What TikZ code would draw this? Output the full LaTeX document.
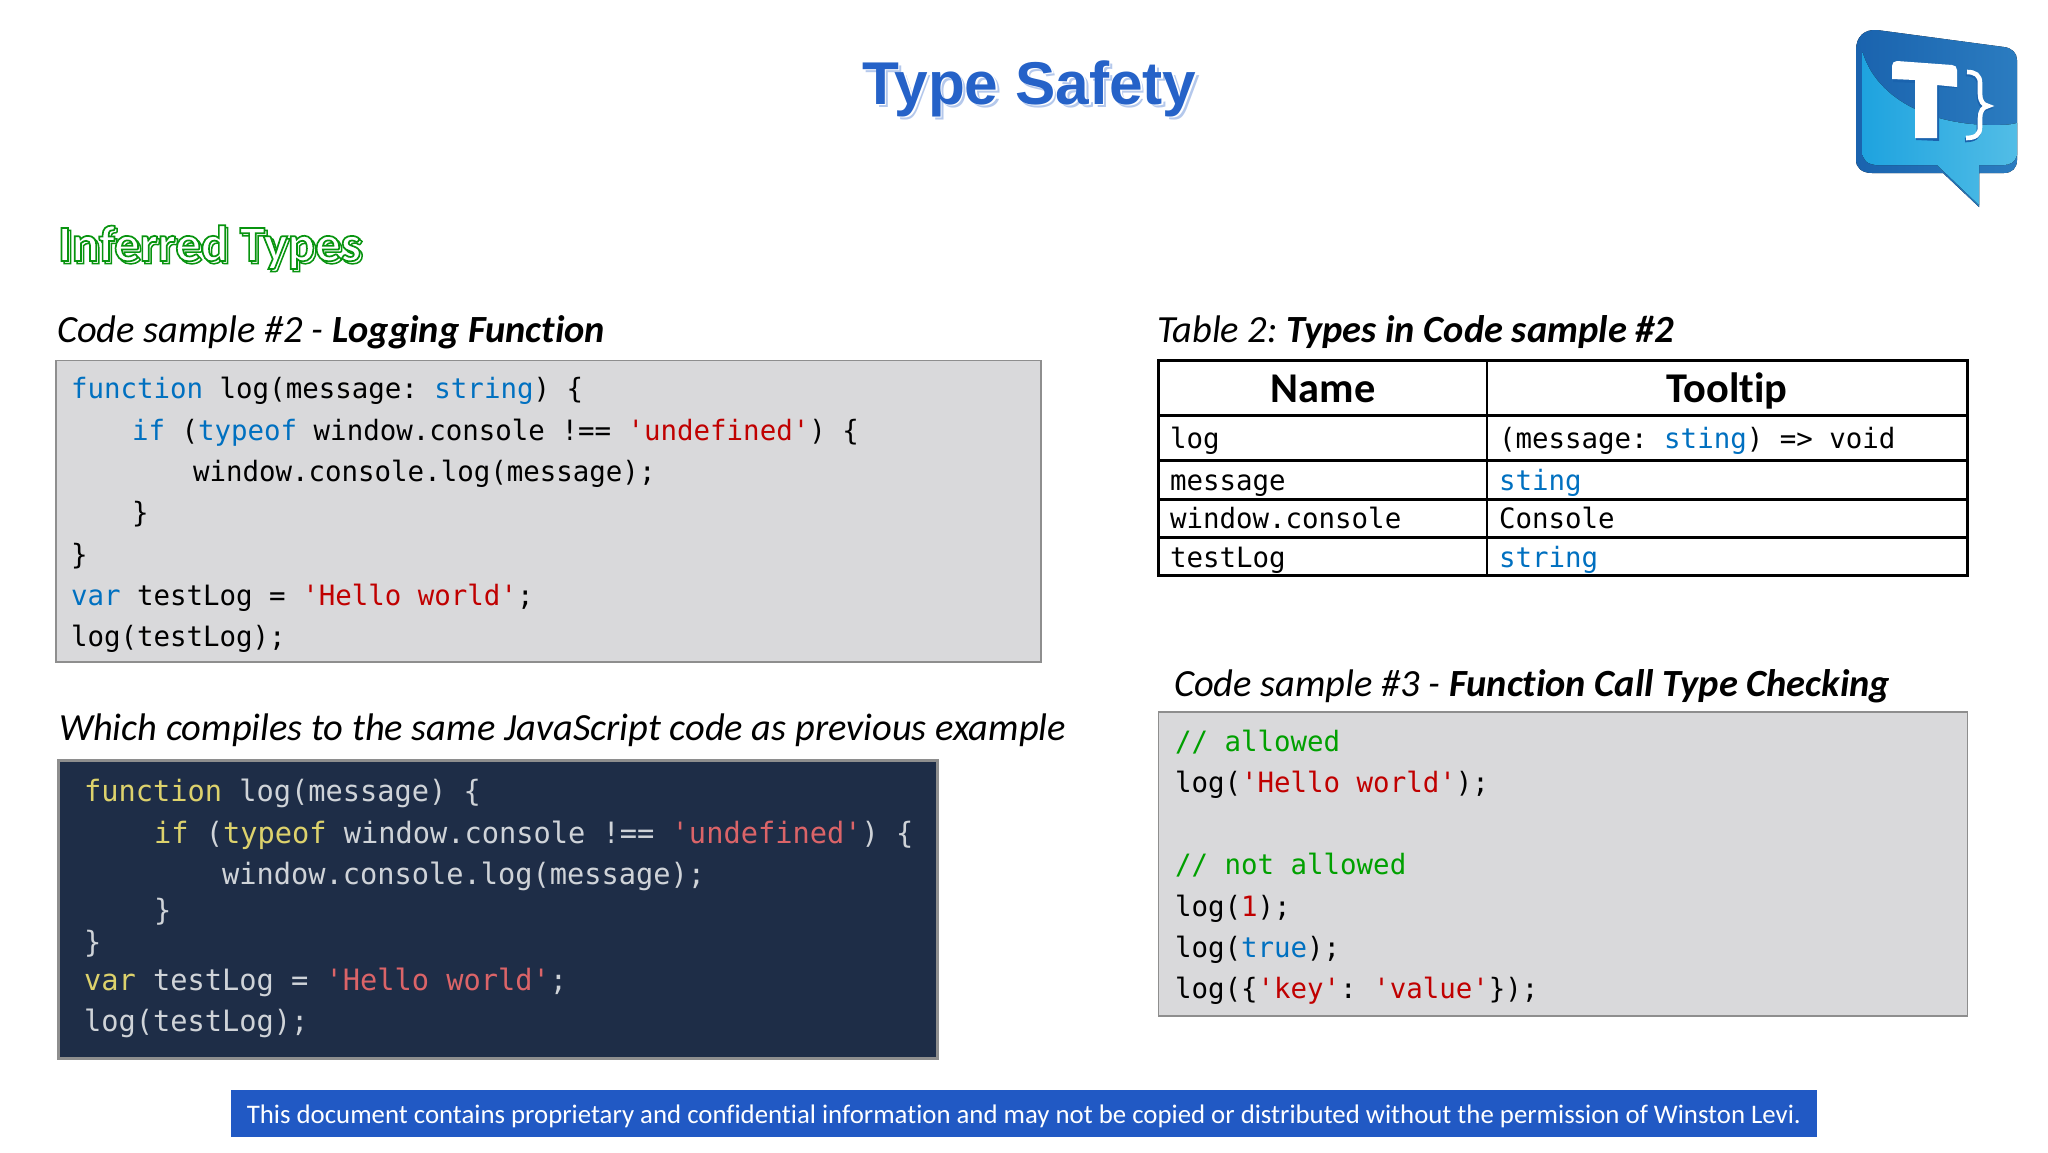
\documentclass[tikz,border=0pt]{standalone}
\usepackage{fontspec}
\setmainfont{Carlito}[Ligatures=NoCommon]
\newfontfamily\titlefont{Liberation Sans}[BoldFont={Liberation Sans Bold}]
\newfontfamily\codefont{DejaVu Sans Mono}[FakeStretch=0.98]
\newfontfamily\darkfont{DejaVu Sans Mono}[FakeStretch=0.975]
\definecolor{kwblue}{HTML}{0070C0}
\definecolor{strred}{HTML}{C00000}
\definecolor{cmtgreen}{HTML}{00A000}
\definecolor{boxgray}{HTML}{D9D9DB}
\definecolor{boxline}{HTML}{8E8E8E}
\definecolor{darkbg}{HTML}{1E2D47}
\definecolor{dkyellow}{HTML}{DDD26C}
\definecolor{dkgray}{HTML}{CFD3D8}
\definecolor{dkred}{HTML}{DB6468}
\definecolor{titleblue}{HTML}{2562C8}
\definecolor{titleshadow}{HTML}{B4C8EC}
\definecolor{headgreen}{HTML}{0F9E16}
\definecolor{footblue}{HTML}{2159C4}
\newcommand{\kw}[1]{\textcolor{kwblue}{#1}}
\newcommand{\str}[1]{\textcolor{strred}{#1}}
\newcommand{\ye}[1]{\textcolor{dkyellow}{#1}}
\newcommand{\rd}[1]{\textcolor{dkred}{#1}}
\tikzset{
  txt/.style={inner sep=0pt,outer sep=0pt,anchor=base west},
  code/.style={txt,font=\frenchspacing\codefont\fontsize{28}{28}\selectfont,text=black},
  dark/.style={txt,font=\frenchspacing\darkfont\fontsize{29.4}{29}\selectfont,text=dkgray},
  heading/.style={txt,font=\frenchspacing\fontsize{38.45}{38}\selectfont,text=black},
  codebox/.style={fill=boxgray,draw=boxline,line width=1.6pt},
  tbl/.style={draw=black,line width=2.4pt},
  thead/.style={inner sep=0pt,anchor=base,font=\bfseries\fontsize{42.4}{42}\selectfont},
  titletext/.style={txt,font=\titlefont\bfseries\fontsize{60.4}{60}\selectfont},
  secttext/.style={txt,font=\bfseries\fontsize{51}{51}\selectfont},
}
\begin{document}
\begin{tikzpicture}[x=1pt,y=-1pt]
\useasboundingbox (0,0) rectangle (2048,1152);
\fill[white] (0,0) rectangle (2048,1152);

% title
\node[titletext,text=titleshadow] (titleS) at (865.5,107.5) {Type Safety};
\node[titletext,text=white] (titleW) at (863.8,105.8) {Type Safety};
\node[titletext,text=titleblue] (title) at (862,104) {Type Safety};

% section heading, outlined
\node[secttext,text=headgreen] (sectS) at (60.5,263.5) {\special{pdf:code q 1 Tr 1.5 w 0.03 0.58 0.06 RG}Inferred Types\special{pdf:code Q}};
\node[secttext,text=white] (sect) at (58,261) {\special{pdf:code q 2 Tr 1.7 w 0.03 0.58 0.06 RG}Inferred Types\special{pdf:code Q}};

% headings
\node[heading] (h1) at (57,342) {\itshape Code sample \#2 - \bfseries Logging Function};
\node[heading] (h2) at (59,740) {\itshape Which compiles to the same JavaScript code as previous example};
\node[heading] (h3) at (1157,342) {\itshape Table 2: \bfseries Types in Code sample \#2};
\node[heading] (h4) at (1174,696) {\itshape Code sample \#3 - \bfseries Function Call Type Checking};

% code sample 2
\path[codebox] (56,360.5) rectangle (1041,662);
\node[code] (c1) at (71,398) {\kw{function} log(message: \kw{string}) \{};
\node[code] (c2) at (132,440) {\kw{if} (\kw{typeof} window.console !== \str{'undefined'}) \{};
\node[code] (c3) at (193,481) {window.console.log(message);};
\node[code] (c4) at (132,522) {\}};
\node[code] (c5) at (71,564) {\}};
\node[code] (c6) at (71,605) {\kw{var} testLog = \str{'Hello world'};};
\node[code] (c7) at (71,646) {log(testLog);};

% dark code
\path[fill=darkbg,draw=boxline,line width=3pt] (58,760) rectangle (937,1058);
\node[dark] (d1) at (84,801) {\ye{function} log(message) \{};
\node[dark] (d2) at (154,843) {\ye{if} (\ye{typeof} window.console !== \rd{'undefined'}) \{};
\node[dark] (d3) at (222,884) {window.console.log(message);};
\node[dark] (d4) at (154,920) {\}};
\node[dark] (d5) at (84,952) {\}};
\node[dark] (d6) at (84,990) {\ye{var} testLog = \rd{'Hello world'};};
\node[dark] (d7) at (84,1031) {log(testLog);};

% table
\draw[tbl] (1158.5,360.5) rectangle (1967.5,575.5);
\draw[tbl] (1487,360.5) -- (1487,575.5);
\draw[tbl] (1158.5,415.5) -- (1967.5,415.5);
\draw[tbl] (1158.5,460.5) -- (1967.5,460.5);
\draw[tbl] (1158.5,499.5) -- (1967.5,499.5);
\draw[tbl] (1158.5,537.5) -- (1967.5,537.5);
\node[thead] (tn) at (1323,402) {Name};
\node[thead] (tt) at (1727,402) {Tooltip};
\node[code] (t1a) at (1170,448) {log};
\node[code] (t1b) at (1499,448) {(message: \kw{sting}) => void};
\node[code] (t2a) at (1170,490) {message};
\node[code] (t2b) at (1499,490) {\kw{sting}};
\node[code] (t3a) at (1170,528) {window.console};
\node[code] (t3b) at (1499,528) {Console};
\node[code] (t4a) at (1170,567) {testLog};
\node[code] (t4b) at (1499,567) {\kw{string}};

% code sample 3
\path[codebox] (1158.5,712) rectangle (1967.5,1016);
\node[code] (e1) at (1175,751) {\textcolor{cmtgreen}{// allowed}};
\node[code] (e2) at (1175,792) {log(\str{'Hello world'});};
\node[code] (e3) at (1175,874) {\textcolor{cmtgreen}{// not allowed}};
\node[code] (e4) at (1175,916) {log(\str{1});};
\node[code] (e5) at (1175,957) {log(\kw{true});};
\node[code] (e6) at (1175,998) {log(\{\str{'key'}: \str{'value'}\});};

% footer
\node[fill=footblue,minimum width=1586pt,minimum height=47pt,inner sep=0pt,text=white,font=\frenchspacing\fontsize{26.8}{27}\selectfont,text depth=0pt,text height=19pt] (foot) at (1024,1113.5) {This document contains proprietary and confidential information and may not be copied or distributed without the permission of Winston Levi.};

% logo
\definecolor{lgdark}{HTML}{1A63AE}
\definecolor{lgdarkb}{HTML}{2B7CC0}
\definecolor{lglight}{HTML}{1EA3DF}
\definecolor{lglightb}{HTML}{52BDE6}
\fill[left color=lgdark,right color=lgdarkb]
  (1856,50) .. controls (1856,37) and (1864,29) .. (1877,30)
  -- (2004,47) .. controls (2012,48) and (2017,53) .. (2017,60)
  -- (2017,160) .. controls (2017,168) and (2012,173) .. (2004,173)
  -- (1979,173) -- (1979,207) -- (1943,173) -- (1872,173)
  .. controls (1862,173) and (1856,168) .. (1856,160) -- cycle;
\fill[left color=lglight,right color=lglightb]
  (1862.5,52) .. controls (1875,95) and (1925,127) .. (2000,125)
  .. controls (2008,125) and (2013,124) .. (2017,123)
  -- (2017,155) .. controls (2015,162) and (2010,165) .. (2004,165)
  -- (1979,165) -- (1979,205) -- (1937,165) -- (1876,165)
  .. controls (1867,164) and (1862.5,160) .. (1862.5,152) -- cycle;
\fill[lgdark] (1893,64) .. controls (1893,63) and (1894,62) .. (1896,62) -- (1954,66) -- (1957,88) -- (1939,87) -- (1939,141) -- (1916,140) -- (1916,83) -- (1893,82) -- cycle;
\fill[white] (1892,66) .. controls (1892,63) and (1894,61) .. (1897,61) -- (1952,65) .. controls (1955,65) and (1957,67) .. (1957,70) -- (1957,87) -- (1937,85) -- (1937,138) -- (1915,138) -- (1915,80) -- (1892,79) -- cycle;
\draw[lgdark,line width=4.6pt]
  (1966,74) .. controls (1974,74) and (1979,77) .. (1979,85)
  -- (1979,96) .. controls (1979,103) and (1982,107) .. (1987,108)
  .. controls (1982,109) and (1979,113) .. (1979,120)
  -- (1979,129) .. controls (1979,137) and (1974,140) .. (1965,140);
\draw[white,line width=4.6pt]
  (1967,72) .. controls (1975,72) and (1980,75) .. (1980,83)
  -- (1980,94) .. controls (1980,101) and (1983,105) .. (1988,106)
  .. controls (1983,107) and (1980,111) .. (1980,118)
  -- (1980,127) .. controls (1980,135) and (1975,138) .. (1966,138);
\end{tikzpicture}
\end{document}
